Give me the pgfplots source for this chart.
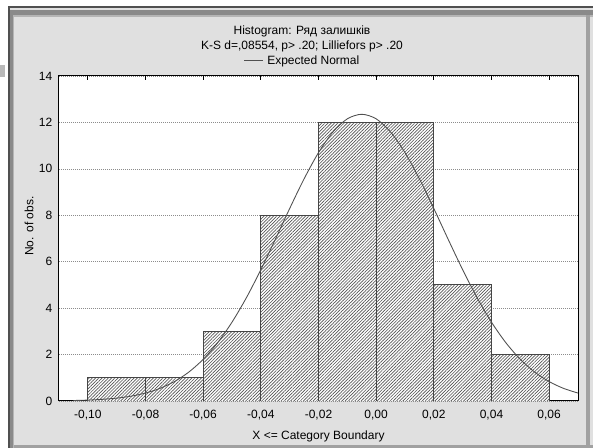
\documentclass[border=0pt]{standalone}
\usepackage{fontspec}
\setmainfont{Liberation Sans}
\usepackage{pgfplots}
\pgfplotsset{compat=1.18}
\usetikzlibrary{patterns.meta}

\definecolor{winbg}{HTML}{E0E0E0}
\definecolor{frameDark}{HTML}{505050}
\definecolor{frameMid}{HTML}{8A8A8A}
\definecolor{frameLight}{HTML}{B5B5B5}
\definecolor{barEdge}{HTML}{454545}
\definecolor{hatch}{HTML}{555555}
\definecolor{curve}{HTML}{505050}
\definecolor{gridc}{HTML}{8C8C8C}

% histogram counts, x = left edge of each class (last row closes the interval)
\pgfplotstableread{
x      n
-0.10  1
-0.08  1
-0.06  3
-0.04  8
-0.02  12
0.00   12
0.02   5
0.04   2
0.06   0
}\hist

% expected normal curve
\pgfplotstableread{
x       y
-0.105  0.021
-0.100  0.039
-0.095  0.071
-0.090  0.123
-0.085  0.208
-0.080  0.342
-0.075  0.543
-0.070  0.835
-0.065  1.243
-0.060  1.794
-0.055  2.508
-0.050  3.395
-0.045  4.451
-0.040  5.654
-0.035  6.957
-0.030  8.291
-0.025  9.569
-0.020  10.699
-0.015  11.587
-0.010  12.155
-0.005  12.350
0.000   12.155
0.005   11.587
0.010   10.699
0.015   9.569
0.020   8.291
0.025   6.957
0.030   5.654
0.035   4.451
0.040   3.395
0.045   2.508
0.050   1.794
0.055   1.243
0.060   0.835
0.065   0.543
0.070   0.342
}\normalc

\begin{document}
\begin{tikzpicture}[font=\fontsize{9}{10.8}\selectfont]
% page and window frame (1px = 0.75pt)
\fill[white] (0pt,0pt) rectangle (444.75pt,336pt);
\fill[winbg] (6pt,0pt) rectangle (444.75pt,331.5pt);
\fill[frameDark] (6pt,330pt) rectangle (444.75pt,331.5pt);
\fill[frameDark] (6pt,0pt) rectangle (7.5pt,331.5pt);
\fill[frameMid] (7.5pt,324.75pt) rectangle (444.75pt,328.5pt);
\fill[frameMid] (7.5pt,0pt) rectangle (9.75pt,328.5pt);
\fill[frameLight] (9.75pt,323.25pt) rectangle (444.75pt,324.75pt);
\fill[frameLight] (9.75pt,0pt) rectangle (10.5pt,324.75pt);
\fill[frameMid!80] (439.5pt,0pt) rectangle (442.5pt,324.75pt);
\fill[frameMid!80] (10.5pt,0pt) rectangle (444.75pt,2.25pt);
\fill[frameMid!60] (0pt,278.25pt) rectangle (3.75pt,287.25pt);

\begin{axis}[
    at={(44.25pt,35.25pt)},
    anchor=south west,
    scale only axis,
    width=389.25pt,
    height=243.75pt,
    xmin=-0.11, xmax=0.07,
    ymin=0, ymax=14,
    axis background/.style={fill=white},
    axis line style={black, line width=0.75pt},
    xtick={-0.10,-0.08,-0.06,-0.04,-0.02,0,0.02,0.04,0.06},
    xticklabels={{-0,10},{-0,08},{-0,06},{-0,04},{-0,02},{0,00},{0,02},{0,04},{0,06}},
    ytick={0,2,...,14},
    xtick pos=right,
    xticklabel pos=left,
    tick align=inside,
    major tick length=3pt,
    xtick style={black, line width=0.6pt},
    ytick style={draw=none},
    /pgf/number format/assume math mode=true,
    xticklabel style={anchor=base, yshift=-13.5pt},
    yticklabel style={anchor=east, xshift=-1.5pt},
    ymajorgrids,
    grid style={gridc, line width=0.5pt, dash pattern=on 0.75pt off 0.75pt},
    xlabel={X <= Category Boundary},
    xlabel style={at={(axis description cs:0.5,0)}, anchor=base, yshift=-28.7pt},
    ylabel={No. of obs.},
    ylabel style={at={(axis description cs:-0.0578,0.538)}, anchor=center},
    clip=true,
]
\addplot[ybar interval, draw=barEdge, line width=0.7pt, fill=white,
    postaction={pattern={Lines[angle=45,distance=1.7pt,line width=0.5pt]}, pattern color=hatch}]
    table[x=x, y=n] {\hist};
\addplot[smooth, draw=curve, line width=0.65pt] table[x=x, y=y] {\normalc};
\end{axis}

% title and legend
\node[anchor=base] at (226.5pt,309.75pt) {Histogram: Ряд залишків};
\node[anchor=base] at (226.5pt,298.5pt) {K-S d=,08554, p> .20; Lilliefors p> .20};
\draw[curve, line width=0.65pt] (183pt,290.5pt) -- (197.25pt,290.5pt);
\node[anchor=base west, inner sep=0pt] at (200.25pt,287.25pt) {Expected Normal};
\end{tikzpicture}
\end{document}
